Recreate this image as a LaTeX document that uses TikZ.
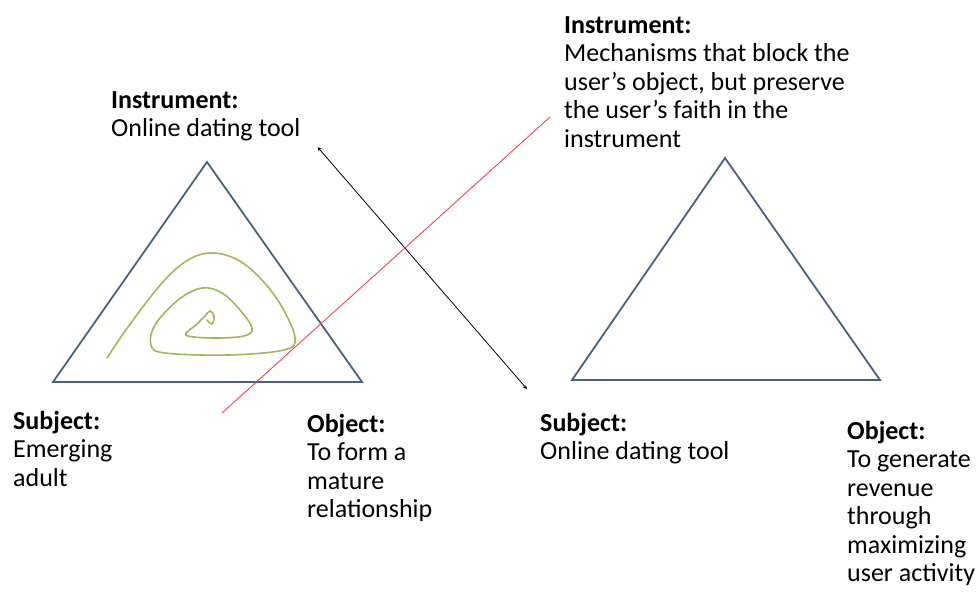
\documentclass[tikz,border=0pt]{standalone}
\usepackage{fontspec}
\setmainfont{Carlito}
\usetikzlibrary{positioning}
\definecolor{triblue}{HTML}{4A5F86}
\definecolor{spiralgreen}{HTML}{9BBB59}
\definecolor{linered}{HTML}{E8474F}
\begin{document}
\begin{tikzpicture}[x=1pt,y=-1pt,
	tri/.style={draw=triblue, line width=1.8pt},
	lbl/.style={anchor=north west, inner sep=0pt, align=left, font=\fontsize{26}{28.5}\selectfont}]
	\useasboundingbox (0,0) rectangle (979,595);
	
	% LEFT TRIANGLE
	
	\coordinate (topa) at (207,162);
	\coordinate (lefta) at (53,382);
	\coordinate (righta) at (362,382);
	\draw [tri] (topa) -- (lefta) -- (righta) -- cycle;
	
	\node [lbl] at (111,91) (insta) {{\bfseries Instrument:}\\Online dating tool};
	\node [lbl] at (13,411) (subja) {{\bfseries Subject:}\\Emerging\\adult};
	\node [lbl] at (307,414) (obja) {{\bfseries Object:}\\To form a\\mature\\relationship};
	
	% Spiral
	\draw [spiralgreen, line width=1.6pt, line cap=round] plot [smooth, tension=0.6] coordinates {
		(107,358) (128,327) (162,283) (188,260) (212,253) (238,260) (262,280) (282,307)
		(295,338) (284,350) (228,355) (165,353) (151,345) (155,325) (178,300) (202,288)
		(222,293) (240,310) (252,328) (244,336) (212,338) (186,335) (196,325) (205,316)
		(210,311) (214,316) (212,324) (207,320)};
	
	% RIGHT TRIANGLE
	
	\coordinate (topb) at (725,158);
	\coordinate (leftb) at (572,380);
	\coordinate (rightb) at (880,380);
	\draw [tri] (topb) -- (leftb) -- (rightb) -- cycle;
	
	\node [lbl] at (564,16) (instb) {{\bfseries Instrument:}\\Mechanisms that block the\\user's object, but preserve\\the user's faith in the\\instrument};
	\node [lbl] at (540,413) (subjb) {{\bfseries Subject:}\\Online dating tool};
	\node [lbl] at (847,421) (objb) {{\bfseries Object:}\\To generate\\revenue\\through\\maximizing\\user activity};
	
	% Arrow between the two
	\draw [<->, >=stealth, line width=0.8pt] ([shift={(17,6)}]insta.south east) -- ([shift={(-13,-24)}]subjb.north west);
	
	% Red line
	\coordinate (reda) at (222,413);
	\coordinate (redb) at (550,117);
	\draw [linered, line width=0.9pt] (reda) -- (redb);
	
\end{tikzpicture}
\end{document}
